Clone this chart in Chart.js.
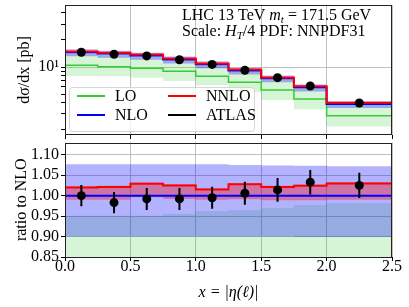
<!DOCTYPE html>
<html>
<head>
<meta charset="utf-8">
<script src="https://cdn.jsdelivr.net/npm/chart.js@4.4.1/dist/chart.umd.min.js"></script>
<style>
  html, body { margin: 0; padding: 0; background: #fff; }
  #wrap { position: relative; width: 409px; height: 307px; overflow: hidden; }
  canvas { position: absolute; left: 0; }
  #topChart { top: 0; }
  #ratioChart { top: 138px; }
</style>
</head>
<body>
<div id="wrap">
  <canvas id="topChart" width="409" height="140"></canvas>
  <canvas id="ratioChart" width="409" height="169"></canvas>
</div>
<script>
// bins in |eta(l)|
const edges = [0, 0.25, 0.5, 0.75, 1.0, 1.25, 1.5, 1.75, 2.0, 2.5];
const centers = [0.125, 0.375, 0.625, 0.875, 1.125, 1.375, 1.625, 1.875, 2.25];

// NLO prediction [pb] and its scale band (as ratio to NLO)
const nlo = [14.6, 14.1, 13.4, 12.15, 10.75, 9.14, 7.5, 5.95, 3.88];
const nloUp = [1.077, 1.077, 1.077, 1.077, 1.077, 1.075, 1.074, 1.073, 1.072];
const nloDown = [0.900, 0.900, 0.900, 0.900, 0.900, 0.900, 0.900, 0.899, 0.899];

// NNLO as ratio to NLO
const nnloRatio = [1.020, 1.021, 1.029, 1.025, 1.015, 1.028, 1.021, 1.024, 1.030];
const nnloUp = [1.023, 1.024, 1.032, 1.028, 1.018, 1.031, 1.024, 1.027, 1.033];
const nnloDown = [0.990, 0.990, 0.996, 0.992, 0.990, 0.991, 0.989, 0.989, 0.990];

// LO [pb], lower edge [pb], upper edge as ratio to NLO
const lo = [10.44, 10.08, 9.67, 8.96, 7.88, 6.76, 5.55, 4.41, 2.87];
const loDown = [7.94, 7.88, 7.6, 6.99, 6.26, 5.19, 4.3, 3.39, 2.17];
const loUpRatio = [0.951, 0.951, 0.951, 0.955, 0.962, 0.965, 0.970, 0.977, 0.982];

// ATLAS data as ratio to NLO
const atlasRatio = [1.000, 0.983, 0.992, 0.992, 0.995, 1.006, 1.014, 1.033, 1.025];
const atlasErr = [0.026, 0.026, 0.027, 0.027, 0.027, 0.028, 0.029, 0.030, 0.031];

const xTicks = [0, 0.5, 1.0, 1.5, 2.0, 2.5];
const topYTicks = [2, 3, 4, 5, 6, 7, 8, 9, 10, 20, 30, 40];
const ratioYTicks = [0.85, 0.90, 0.95, 1.00, 1.05, 1.10];

const SERIF = "'Liberation Serif', 'Times New Roman', serif";
Chart.defaults.font.family = SERIF;
Chart.defaults.font.size = 16;
Chart.defaults.color = '#000';

const GREEN = 'rgb(50,205,50)';
const GREEN_BAND = 'rgba(50,205,50,0.2)';
const BLUE = '#0000ff';
const BLUE_BAND = 'rgba(0,0,255,0.3)';
const RED = '#ff0000';
const RED_BAND = 'rgba(255,0,0,0.35)';
const GRID = 'rgba(176,176,176,0.8)';

function steps(vals) {
  // each bin value held from its left edge, last one repeated at the right edge
  const pts = vals.map((v, i) => ({ x: edges[i], y: v }));
  pts.push({ x: edges[edges.length - 1], y: vals[vals.length - 1] });
  return pts;
}

function stepLine(label, vals, color, width, order) {
  return { label, data: steps(vals), stepped: true, borderColor: color, borderWidth: width,
           pointRadius: 0, fill: false, order };
}

// two datasets, upper one filled down to the next
function band(up, down, color, order) {
  return [
    { data: steps(up), stepped: true, borderWidth: 0, borderColor: 'transparent', pointRadius: 0,
      fill: '+1', backgroundColor: color, order },
    { data: steps(down), stepped: true, borderWidth: 0, borderColor: 'transparent', pointRadius: 0,
      fill: false, order: order + 1 }
  ];
}

function errBars(ys, errs) {
  const pts = [];
  centers.forEach((c, i) => {
    pts.push({ x: c, y: ys[i] - errs[i] }, { x: c, y: ys[i] + errs[i] }, { x: c, y: null });
  });
  return { data: pts, borderColor: '#000', borderWidth: 2, pointRadius: 0, spanGaps: false, fill: false, order: 1 };
}

function points(ys) {
  return { label: 'ATLAS', data: centers.map((c, i) => ({ x: c, y: ys[i] })), showLine: false,
           pointRadius: 4.5, pointBackgroundColor: '#000', pointBorderWidth: 0, order: 0 };
}

const mul = (a, b) => a.map((v, i) => v * b[i]);
const div = (a, b) => a.map((v, i) => v / b[i]);

const frame = {
  id: 'frame',
  afterDraw(chart) {
    const { ctx, chartArea: a } = chart;
    ctx.save();
    ctx.strokeStyle = '#222';
    ctx.lineWidth = 1;
    ctx.strokeRect(Math.round(a.left) + 0.5, Math.round(a.top) + 0.5,
                   Math.round(a.right - a.left) - 1, Math.round(a.bottom - a.top) - 1);
    ctx.restore();
  }
};

function drawRuns(ctx, x, y, runs) {
  runs.forEach(r => {
    const size = r.sub ? 11 : 16;
    ctx.font = (r.italic ? 'italic ' : '') + size + 'px ' + SERIF;
    ctx.fillText(r.t, x, y + (r.sub ? 3 : 0));
    x += ctx.measureText(r.t).width;
  });
}

const labels = {
  id: 'labels',
  afterDraw(chart) {
    const ctx = chart.ctx;
    ctx.save();
    ctx.fillStyle = '#000';
    ctx.textBaseline = 'alphabetic';
    drawRuns(ctx, 182, 20, [
      { t: 'LHC 13 TeV ' }, { t: 'm', italic: true }, { t: 't', italic: true, sub: true },
      { t: ' = 171.5 GeV' }
    ]);
    drawRuns(ctx, 182, 36, [
      { t: 'Scale: ' }, { t: 'H', italic: true }, { t: 'T', italic: true, sub: true },
      { t: '/4 PDF: NNPDF31' }
    ]);

    // legend
    ctx.beginPath();
    ctx.roundRect(69.5, 87.5, 185, 44, 3);
    ctx.fillStyle = 'rgba(255,255,255,0.8)';
    ctx.fill();
    ctx.strokeStyle = 'rgba(204,204,204,0.8)';
    ctx.lineWidth = 1;
    ctx.stroke();
    const items = [
      { label: 'LO', color: GREEN, x: 77, y: 96 },
      { label: 'NLO', color: BLUE, x: 77, y: 115 },
      { label: 'NNLO', color: RED, x: 168, y: 96 },
      { label: 'ATLAS', color: '#000', x: 168, y: 115 }
    ];
    ctx.font = '16px ' + SERIF;
    ctx.textBaseline = 'middle';
    items.forEach(it => {
      ctx.strokeStyle = it.color;
      ctx.lineWidth = 2;
      ctx.beginPath();
      ctx.moveTo(it.x, it.y);
      ctx.lineTo(it.x + 28, it.y);
      ctx.stroke();
      ctx.fillStyle = '#000';
      ctx.fillText(it.label, it.x + 38, it.y + 1);
    });
    ctx.restore();
  }
};

const xScale = (showLabels) => ({
  type: 'linear', min: 0, max: 2.5,
  afterBuildTicks: s => { s.ticks = xTicks.map(v => ({ value: v })); },
  ticks: { display: showLabels, callback: v => v.toFixed(1), padding: -2, maxRotation: 0,
           autoSkip: false, font: { lineHeight: 1 } },
  grid: { color: GRID, tickColor: '#000', tickLength: 4 },
  border: { display: false }
});

// top panel: cross sections
const nloPb = nlo;
const topData = [
  points(mul(atlasRatio, nloPb)),
  errBars(mul(atlasRatio, nloPb), mul(atlasErr, nloPb)),
  stepLine('NNLO', mul(nnloRatio, nloPb), RED, 2, 2),
  stepLine('NLO', nloPb, BLUE, 2, 3),
  stepLine('LO', lo, GREEN, 1.5, 4),
  ...band(mul(nnloUp, nloPb), mul(nnloDown, nloPb), RED_BAND, 5),
  ...band(mul(nloUp, nloPb), mul(nloDown, nloPb), BLUE_BAND, 7),
  ...band(mul(loUpRatio, nloPb), loDown, GREEN_BAND, 9)
];

const topX = xScale(false);
topX.afterFit = s => { s.height = 5; s.paddingLeft = 0; s.paddingRight = 0; };

new Chart(document.getElementById('topChart'), {
  type: 'line',
  data: { datasets: topData },
  options: {
    responsive: false, animation: false, devicePixelRatio: 1,
    layout: { padding: { top: 5, right: 17, bottom: 0, left: 0 } },
    plugins: { legend: { display: false }, tooltip: { enabled: false } },
    scales: {
      x: topX,
      y: {
        type: 'logarithmic', min: 1.75, max: 49,
        afterBuildTicks: s => { s.ticks = topYTicks.map(v => ({ value: v })); },
        ticks: { callback: v => (v === 10 ? '10¹' : ''), padding: 2, autoSkip: false },
        grid: { color: c => (c.tick && c.tick.value === 10 ? GRID : 'transparent'),
                tickColor: '#000', tickLength: 4 },
        border: { display: false },
        title: { display: true, text: 'dσ/dx [pb]', padding: { top: 15 } },
        afterFit: s => { s.width = 65; s.paddingTop = 0; s.paddingBottom = 0; }
      }
    }
  },
  plugins: [frame, labels]
});

// bottom panel: ratio to NLO
const ones = div(nlo, nlo);
const ratioData = [
  points(atlasRatio),
  errBars(atlasRatio, atlasErr),
  stepLine('NNLO', nnloRatio, RED, 2, 2),
  stepLine('NLO', ones, BLUE, 2, 3),
  stepLine('LO', div(lo, nlo), GREEN, 1.5, 4),
  ...band(nnloUp, nnloDown, RED_BAND, 5),
  ...band(nloUp, nloDown, BLUE_BAND, 7),
  ...band(loUpRatio, div(loDown, nlo), GREEN_BAND, 9)
];

const ratioX = xScale(true);
ratioX.title = { display: true, text: 'x = |η(ℓ)|', font: { style: 'italic' }, padding: { bottom: 5 } };
ratioX.afterFit = s => { s.height = 50; s.paddingLeft = 0; s.paddingRight = 0; };

new Chart(document.getElementById('ratioChart'), {
  type: 'line',
  data: { datasets: ratioData },
  options: {
    responsive: false, animation: false, devicePixelRatio: 1,
    layout: { padding: { top: 3, right: 17, bottom: 0, left: 0 } },
    plugins: { legend: { display: false }, tooltip: { enabled: false } },
    scales: {
      x: ratioX,
      y: {
        type: 'linear', min: 0.85, max: 1.13,
        afterBuildTicks: s => { s.ticks = ratioYTicks.map(v => ({ value: v })); },
        ticks: { callback: v => v.toFixed(2), padding: 2, autoSkip: false },
        grid: { color: GRID, tickColor: '#000', tickLength: 4 },
        border: { display: false },
        title: { display: true, text: 'ratio to NLO', padding: { top: 12 } },
        afterFit: s => { s.width = 65; s.paddingTop = 0; s.paddingBottom = 0; }
      }
    }
  },
  plugins: [frame]
});
</script>
</body>
</html>
